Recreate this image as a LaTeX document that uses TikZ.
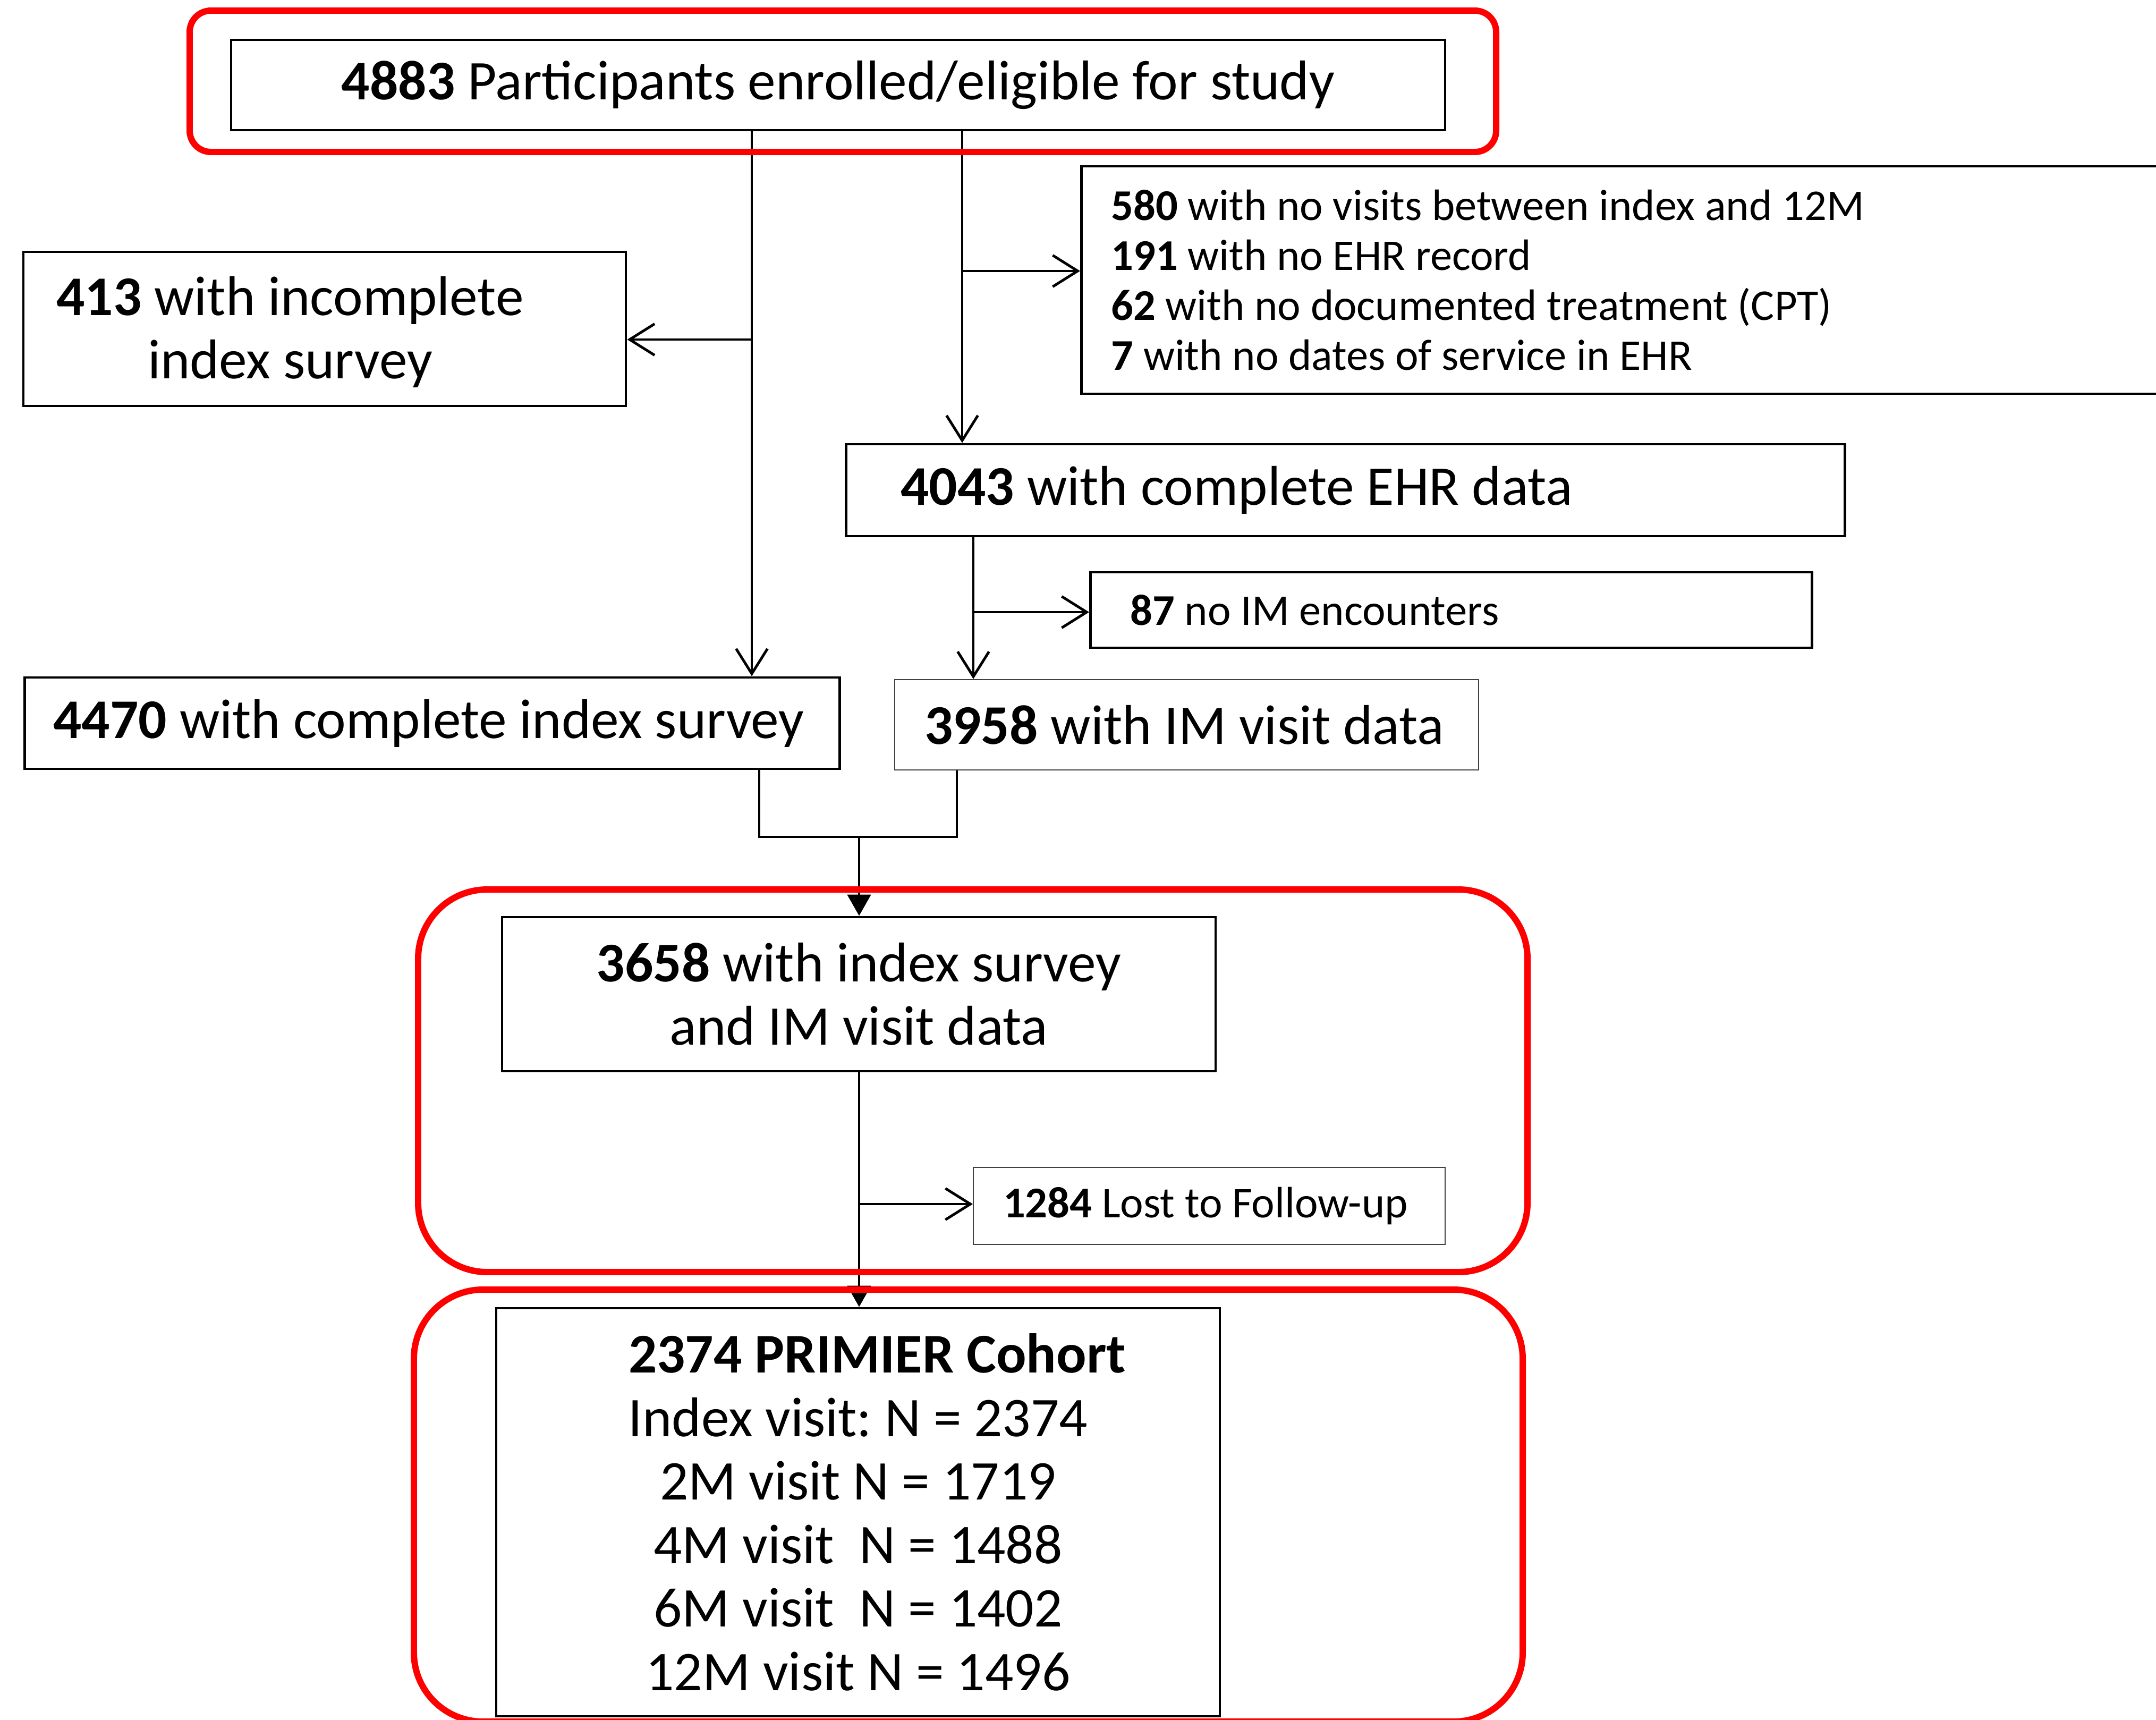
\documentclass[tikz,border=0pt]{standalone}
\usepackage{fontspec}
\setmainfont{Carlito}
\usepackage{tikz}
\usetikzlibrary{arrows.meta, calc, positioning}

\begin{document}
\begin{tikzpicture}[>=latex,
    every node/.style={execute at begin node={\spaceskip=0pt\xspaceskip=0pt\frenchspacing}},
    box/.style={draw, line width=1.4pt, inner ysep=0pt},
    thinbox/.style={draw=black!75, line width=0.6pt, inner ysep=0pt},
    redframe/.style={draw=red, line width=3.4pt},
    big/.style={font=\fontsize{30}{34}\selectfont},
    small/.style={font=\fontsize{23.5}{26.7}\selectfont},
    link/.style={line width=1.4pt},
    openarr/.style={link, -{Straight Barb[length=4.7mm, width=5.9mm]}},
    fillarr/.style={link, -{Triangle[length=4mm, width=4.4mm]}}]

    \useasboundingbox (0,0) rectangle (40.58,-32.37);
    \clip (0,0) rectangle (40.58,-32.37);

    % 1. Enrolled participants and exclusions
    \node[box, big, minimum width=22.85cm, minimum height=1.70cm] (enrol) at (15.775,-1.60)
        {\textbf{4883} Participants enrolled/eligible for study};
    \node[box, minimum width=11.34cm, minimum height=2.90cm] (inc) at (6.11,-6.19) {};
    \node[big, align=center] (inctxt) at (5.46,-6.25) {\textbf{413} with incomplete\\index survey};
    \node[box, small, anchor=west, text width=19.2cm, align=left, inner xsep=0.56cm,
        minimum height=4.28cm] (excl) at (20.33,-5.27)
        {\textbf{580} with no visits between index and 12M\\
         \textbf{191} with no EHR record\\
         \textbf{62} with no documented treatment (CPT)\\
         \textbf{7} with no dates of service in EHR};

    % 2. EHR branch
    \node[box, big, anchor=west, text width=16.74cm, align=left, inner xsep=1.03cm,
        minimum height=1.73cm] (ehr) at (15.90,-9.225) {\textbf{4043} with complete EHR data};
    \node[box, small, anchor=west, text width=12.08cm, align=left, inner xsep=0.75cm,
        minimum height=1.42cm] (noim) at (20.50,-11.48) {\textbf{87} no IM encounters};

    % 3. Survey and visit data
    \node[box, big, anchor=west, text width=14.26cm, align=left, inner xsep=0.54cm,
        minimum height=1.72cm] (svy) at (0.44,-13.61) {\textbf{4470} with complete index survey};
    \node[thinbox, big, anchor=west, text width=9.87cm, align=left, inner xsep=0.56cm,
        minimum height=1.70cm] (imv) at (16.83,-13.64) {\textbf{3958} with IM visit data};
    \node[box, big, align=center, minimum width=13.43cm, minimum height=2.90cm] (both)
        at (16.165,-18.71) {\textbf{3658} with index survey\\and IM visit data};

    % 4. Follow-up and cohort
    \node[thinbox, small, anchor=west, text width=7.76cm, align=left, inner xsep=0.56cm,
        minimum height=1.45cm] (lost) at (18.31,-22.695) {\textbf{1284} Lost to Follow-up};
    \node[box, big, align=center, minimum width=13.62cm, minimum height=7.68cm] (coh)
        at (16.15,-28.46)
        {\hspace*{0.72cm}\textbf{2374 PRIMIER Cohort}\\Index visit: N = 2374\\2M visit N = 1719\\
         4M visit~ N = 1488\\6M visit~ N = 1402\\12M visit N = 1496};

    % 5. Connectors
    \coordinate (xL) at (14.15,0);
    \coordinate (xR) at (18.11,0);
    \coordinate (xR2) at (18.32,0);
    \coordinate (xM) at (16.17,0);
    \coordinate (xB1) at (14.29,0);
    \coordinate (xB2) at (18.01,0);
    \coordinate (yA) at (0,-6.39);
    \coordinate (yB) at (0,-5.10);
    \coordinate (yC) at (0,-11.52);
    \coordinate (yJ) at (0,-15.75);
    \coordinate (yD) at (0,-22.66);

    \draw[openarr] (enrol.south -| xL) -- (svy.north -| xL);
    \draw[openarr] (yA -| xL) -- (yA -| inc.east);
    \draw[openarr] (enrol.south -| xR) -- (ehr.north -| xR);
    \draw[openarr] (yB -| xR) -- (yB -| excl.west);
    \draw[openarr] (ehr.south -| xR2) -- (imv.north -| xR2);
    \draw[openarr] (yC -| xR2) -- (yC -| noim.west);
    \draw[link] (svy.south -| xB1) -- (yJ -| xB1) -- (yJ -| xB2) -- (imv.south -| xB2);
    \draw[fillarr] (yJ -| xM) -- (both.north -| xM);
    \draw[fillarr] (both.south -| xM) -- (coh.north -| xM);
    \draw[openarr] (yD -| xM) -- (yD -| lost.west);

    % 6. Red frames
    \draw[redframe, rounded corners=0.4cm] (3.57,-0.20) rectangle (28.16,-2.86);
    \draw[redframe, rounded corners=1.3cm] (7.87,-16.74) rectangle (28.75,-23.94);
    \draw[redframe, rounded corners=1.3cm] (7.79,-24.27) rectangle (28.66,-32.40);
\end{tikzpicture}
\end{document}
